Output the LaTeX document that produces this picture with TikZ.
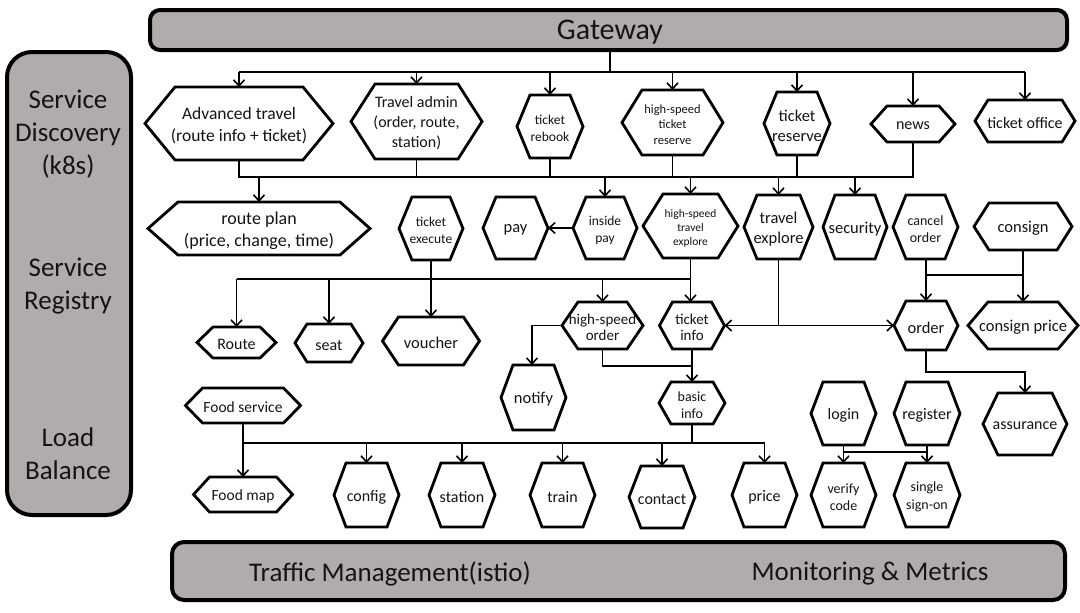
\documentclass[tikz,border=0pt]{standalone}
\usepackage{fontspec}
\setmainfont{Carlito}
\usetikzlibrary{arrows.meta,calc}
\pgfdeclarelayer{background}
\pgfsetlayers{background,main}
\definecolor{panelgray}{RGB}{176,172,171}
\definecolor{txt}{RGB}{20,20,20}
\newcommand\hexn[9]{%
  \node[hexbox, minimum width=#4pt, minimum height=#5pt] (#1) at (#2,#3) {};
  \node[hexbox, font=\fontsize{#7}{#8}\selectfont] (#1t) at ($(#1.center)+(0,2)$) {#9};
  \begin{pgfonlayer}{background}
  \draw[hexline] (#1.west) -- ($(#1.north west)+(#6,0)$) -- ($(#1.north east)+(-#6,0)$) -- (#1.east) -- ($(#1.south east)+(-#6,0)$) -- ($(#1.south west)+(#6,0)$) -- cycle;
  \end{pgfonlayer}
}
\begin{document}
\begin{tikzpicture}[x=1pt,y=-1pt,
  panel/.style={draw=black, line width=4pt, fill=panelgray, inner sep=0pt},
  hexbox/.style={inner sep=0pt, outer sep=0pt, align=center, text=txt, draw=none},
  hexline/.style={draw=black, line width=2.8pt, line join=miter, fill=white},
  conn/.style={line width=1.6pt},
  arr/.style={line width=1.6pt, -{Straight Barb[length=6pt,width=11pt]}},
  bigtext/.style={align=center, text=txt, font=\fontsize{27}{33}\selectfont, inner sep=0pt}
]
\begin{pgfonlayer}{background}
\fill[white] (0,0) rectangle (1080,613);
\end{pgfonlayer}
\useasboundingbox (0,0) rectangle (1080,613);

% panels
\node[panel, rounded corners=10pt, minimum width=917pt, minimum height=40pt] (gw) at (608.5,30) {};
\node[text=txt, font=\fontsize{30}{36}\selectfont, inner sep=0pt] (gwt) at (610,32) {Gateway};
\node[panel, rounded corners=25pt, minimum width=124pt, minimum height=463pt] (left) at (69,283.5) {};
\node[panel, rounded corners=12pt, minimum width=893pt, minimum height=58pt] (bot) at (618.5,571) {};
\node[bigtext] (sd) at (68,134.5) {Service\\Discovery\\(k8s)};
\node[bigtext] (sr) at (68,286) {Service\\Registry};
\node[bigtext] (lb) at (68,453.5) {Load\\Balance};
\node[bigtext] (tm) at (390,573.5) {Traffic Management(istio)};
\node[bigtext] (mm) at (870,573.5) {Monitoring \& Metrics};

% coordinates for buses
\coordinate (g0) at (610,72);
\coordinate (b2) at (0,177);
\coordinate (b3) at (0,279);
\coordinate (y275) at (0,275);
\coordinate (y366) at (0,366);
\coordinate (y372) at (0,372);
\coordinate (y443) at (0,443);
\coordinate (y452) at (0,452);

% row 1 nodes
\hexn{adv}{239}{123.5}{188}{73}{30}{17.5}{22}{Advanced travel\\(route info + ticket)}
\hexn{tadm}{416.5}{121.5}{131}{75}{24}{16}{20}{Travel admin\\(order, route,\\station)}
\hexn{reb}{550}{126.5}{66}{63}{13}{13.5}{17}{ticket\\rebook}
\hexn{hstr}{672.5}{122.5}{101}{65}{20}{12.5}{15.5}{high-speed\\ticket\\reserve}
\hexn{tres}{797}{123.5}{66}{63}{13}{16.5}{20}{ticket\\reserve}
\hexn{news}{913}{124}{84}{36}{16}{16}{19}{news}
\hexn{toff}{1025}{121}{100}{42}{13}{16}{19}{ticket office}
% row 2
\hexn{rplan}{259}{228.5}{222}{53}{30}{18}{22}{route plan\\(price, change, time)}
\hexn{texe}{431}{228.5}{64}{63}{13}{13.5}{17}{ticket\\execute}
\hexn{pay}{515.5}{228}{65}{62}{13}{16.5}{20}{pay}
\hexn{ipay}{605}{228}{64}{62}{13}{13.5}{17}{inside\\pay}
\hexn{hste}{690.5}{226}{95}{64}{20}{11.5}{14}{high-speed\\travel\\explore}
\hexn{texp}{778.5}{227}{69}{64}{13}{16.5}{20}{travel\\explore}
\hexn{sec}{855}{227}{64}{64}{12}{16.5}{20}{security}
\hexn{corder}{925.5}{227}{65}{64}{13}{14}{17.5}{cancel\\order}
\hexn{consign}{1023}{226.5}{98}{47}{15}{16.5}{20}{consign}
% row 3
\hexn{route}{236.5}{342.5}{79}{31}{16}{16}{19}{Route}
\hexn{seat}{329}{343}{68}{38}{12}{16}{19}{seat}
\hexn{vouch}{431}{341}{97}{48}{16}{16.5}{20}{voucher}
\hexn{hsord}{602.5}{325.5}{81}{47}{16}{15}{16.5}{high-speed\\order}
\hexn{tinfo}{692}{325.5}{65}{47}{13}{15}{16.5}{ticket\\info}
\hexn{order}{926}{325.5}{64}{49}{12}{16.5}{20}{order}
\hexn{cprice}{1023}{325.5}{110}{47}{20}{16.5}{20}{consign price}
% row 4
\hexn{notify}{533.5}{397.5}{65}{65}{12}{16.5}{20}{notify}
\hexn{binfo}{692}{403}{66}{42}{12}{14}{17}{basic\\info}
\hexn{assur}{1025}{424}{84}{62}{15}{16}{20}{assurance}
\hexn{login}{843.5}{413.5}{65}{63}{12}{16}{20}{login}
\hexn{reg}{927}{413.5}{66}{63}{12}{16}{20}{register}
\hexn{fserv}{243}{405.5}{115}{35}{17}{15.5}{19}{Food service}
% row 5
\hexn{fmap}{243}{494.5}{99}{35}{16}{15.5}{19}{Food map}
\hexn{config}{366.5}{495}{65}{64}{12}{16}{19}{config}
\hexn{station}{462}{495}{66}{64}{12}{16}{19}{station}
\hexn{train}{562.5}{495}{65}{64}{12}{16}{19}{train}
\hexn{contact}{662}{497}{66}{62}{12}{16}{19}{contact}
\hexn{price}{764.5}{495}{65}{64}{12}{16}{19}{price}
\hexn{vcode}{843.5}{495}{65}{64}{12}{14}{17.5}{verify\\code}
\hexn{sso}{927}{495}{66}{64}{12}{14}{17.5}{single\\sign-on}

% gateway fan-out
\draw[conn] (g0 |- gw.south) -- (g0);
\draw[conn] (adv.north |- g0) -- (toff.north |- g0);
\foreach \n in {adv,tadm,reb,hstr,tres,news,toff}
  \draw[arr] (\n.north |- g0) -- (\n.north);

% second bus
\draw[conn] (adv.south) -- (adv.south |- b2) -- (news.south |- b2) -- (news.south);
\foreach \n in {tadm,reb,hstr,tres}
  \draw[conn] (\n.south) -- (\n.south |- b2);
\foreach \n in {rplan,ipay,hste,texp,sec}
  \draw[arr] (\n.north |- b2) -- (\n.north);

% inside pay -> pay
\draw[arr] (ipay.west) -- (pay.east);

% third bus
\draw[conn] (route.north |- b3) -- (hste.south |- b3);
\draw[arr] (texe.south) -- (vouch.north);
\draw[arr] (hste.south) -- (hste.south |- tinfo.north);
\foreach \n in {route,seat,hsord}
  \draw[arr] (\n.north |- b3) -- (\n.north);

% travel explore -> ticket info / order
\draw[conn] (texp.south) -- (texp.south |- tinfo.east);
\draw[arr] (texp.south |- tinfo.east) -- (tinfo.east);
\draw[arr] (texp.south |- order.west) -- (order.west);

% cancel order / consign
\draw[arr] (order.north |- corder.south) -- (order.north);
\draw[arr] (consign.south) -- (cprice.north);
\draw[conn] (consign.south |- y275) -- (order.north |- y275);
\draw[arr] (order.south) -- (order.south |- y372) -- (assur.north |- y372) -- (assur.north);

% high-speed order
\draw[arr] (hsord.west) -| ([xshift=-1.5pt]notify.north);
\draw[arr] (hsord.south) -- (hsord.south |- y366) -- (binfo.north |- y366) -- (binfo.north);
\draw[conn] (tinfo.south) -- (binfo.north |- y366);

% bottom bus
\draw[conn] (fserv.south) -- (fserv.south |- y443) -- (price.north |- y443);
\draw[conn] (binfo.south) -- (binfo.south |- y443);
\draw[arr] (fserv.south |- y443) -- (fmap.north);
\foreach \n in {config,station,train,contact,price}
  \draw[arr] (\n.north |- y443) -- (\n.north);

% login / register
\draw[arr] (login.south) -- (vcode.north);
\draw[arr] (reg.south) -- (sso.north);
\draw[conn] (login.south |- y452) -- (reg.south |- y452);
\end{tikzpicture}
\end{document}
